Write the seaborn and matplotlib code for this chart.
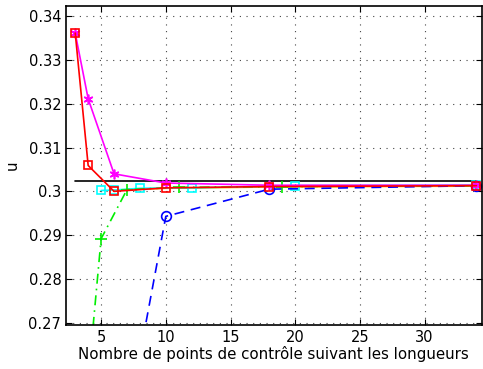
import numpy as np
import pandas as pd
import matplotlib
matplotlib.use("Agg")
import matplotlib.pyplot as plt
import seaborn as sns

# reference value (black line)
ref_x = [3, 34]
ref_u = [0.3023, 0.3023]

red_x = [3, 4, 6, 10, 18, 34]
red_u = [0.3361, 0.3059, 0.3000, 0.3008, 0.3011, 0.3013]

mag_x = [3, 4, 6, 10, 18, 34]
mag_u = [0.3361, 0.3211, 0.3040, 0.3019, 0.3014, 0.3014]

cyan_x = [5, 6, 8, 12, 20, 34]
cyan_u = [0.3002, 0.3003, 0.3007, 0.3008, 0.3013, 0.3014]

yel_x = [6, 10, 18, 34]
yel_u = [0.3003, 0.3007, 0.3010, 0.3012]

green_x = [4, 5, 7, 11, 19, 34]
green_u = [0.2570, 0.2892, 0.3004, 0.3009, 0.3011, 0.3013]

blue_x = [8, 10, 18, 34]
blue_u = [0.2627, 0.2943, 0.3005, 0.3013]

xticks = [5, 10, 15, 20, 25, 30]
yticks = [0.27, 0.28, 0.29, 0.30, 0.31, 0.32, 0.33, 0.34]
ytick_labels = ["0.27", "0.28", "0.29", "0.3", "0.31", "0.32", "0.33", "0.34"]

sns.set_style("ticks", {"text.color": "black", "axes.labelcolor": "black",
                        "xtick.color": "black", "ytick.color": "black"})
plt.rcParams["font.family"] = ["DejaVu Sans"]

fig = plt.figure(figsize=(4.83, 3.69), dpi=100)
ax = fig.add_axes([0.137, 0.119, 0.86, 0.865])

sns.lineplot(x=ref_x, y=ref_u, color="black", linewidth=1.2, ax=ax)
sns.lineplot(x=yel_x, y=yel_u, color="#ffb000", linewidth=1.2, ax=ax)
sns.lineplot(x=cyan_x, y=cyan_u, color="cyan", linewidth=1.2, marker="s",
             markersize=6, markerfacecolor="none", markeredgecolor="cyan",
             markeredgewidth=1.2, ax=ax)
sns.lineplot(x=green_x, y=green_u, color="#00ee00", linewidth=1.2, marker="+",
             markersize=8, markeredgecolor="#00ee00", markeredgewidth=1.2,
             ax=ax)
ax.lines[-1].set_linestyle((0, (6, 3, 1, 3)))
sns.lineplot(x=blue_x, y=blue_u, color="blue", linewidth=1.2, marker="o",
             markersize=7, markerfacecolor="none", markeredgecolor="blue",
             markeredgewidth=1.2, ax=ax)
ax.lines[-1].set_linestyle((0, (6, 4)))
sns.lineplot(x=mag_x, y=mag_u, color="magenta", linewidth=1.2,
             marker=(6, 2, 0), markersize=7, markeredgecolor="magenta",
             markeredgewidth=1.2, ax=ax)
sns.lineplot(x=red_x, y=red_u, color="red", linewidth=1.2, marker="s",
             markersize=6, markerfacecolor="none", markeredgecolor="red",
             markeredgewidth=1.2, ax=ax)

ax.set_xlim(2.3, 34.4)
ax.set_ylim(0.2695, 0.3423)
ax.set_xticks(xticks)
ax.set_xticklabels([str(t) for t in xticks])
ax.set_yticks(yticks)
ax.set_yticklabels(ytick_labels)

ax.grid(True, linestyle=(0, (1, 5)), color="#444444", linewidth=0.8)
for s in ax.spines.values():
    s.set_visible(True)
    s.set_linewidth(1.2)
    s.set_color("black")
ax.tick_params(direction="in", top=True, right=True, labelsize=10.5,
               length=4, width=0.8, colors="black")

ax.set_xlabel("Nombre de points de contrôle suivant les longueurs",
              fontsize=10.8, labelpad=1, color="black")
ax.set_ylabel("u", fontsize=10.8, labelpad=6, color="black")

fig.savefig("out.png", dpi=100)
plt.close(fig)
